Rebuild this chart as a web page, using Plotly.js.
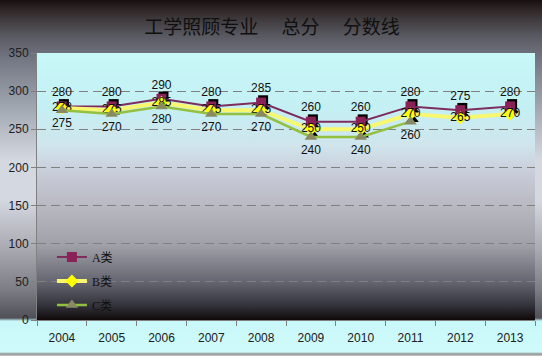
<!DOCTYPE html>
<html>
<head>
<meta charset="utf-8">
<script src="https://cdn.plot.ly/plotly-3.0.1.min.js"></script>
<style>
html,body{margin:0;padding:0;}
#chart{width:542px;height:356px;
background:linear-gradient(to bottom,#181010 0px,#302828 10px,#585860 35px,#747884 60px,#9aa0aa 100px,#d4d8e0 160px,#d4d8e0 200px,#a8a8b0 250px,#7c7c84 290px,#505058 318px,#c8f8fa 321px,#d0fafa 352px,#909090 354px,#d0d0d0 356px);}
</style>
</head>
<body>
<div id="chart"></div>
<script>
const years = ['2004','2005','2006','2007','2008','2009','2010','2011','2012','2013'];
const seriesA = [280,280,290,280,285,260,260,280,275,280];
const seriesB = [278,275,285,275,275,250,250,270,265,270];
const seriesC = [275,270,280,270,270,240,240,260,null,null];
const names = ['A类','B类','C类'];
const yTicks = [0,50,100,150,200,250,300,350];
const gridVals = [50,100,150,200,250,300];

const bgSvg = "<svg xmlns='http://www.w3.org/2000/svg' width='10' height='100' preserveAspectRatio='none'><defs><linearGradient id='g' x1='0' y1='0' x2='0' y2='1'>" +
 "<stop offset='0' stop-color='#c8f8f8'/><stop offset='0.2' stop-color='#c4f0f4'/><stop offset='0.35' stop-color='#d0e4ec'/>" +
 "<stop offset='0.45' stop-color='#c8ccd8'/><stop offset='0.6' stop-color='#b4b4bc'/><stop offset='0.72' stop-color='#a0a0a8'/>" +
 "<stop offset='0.86' stop-color='#646470'/><stop offset='0.95' stop-color='#303038'/><stop offset='1' stop-color='#100808'/>" +
 "</linearGradient></defs><rect width='10' height='100' fill='url(#g)'/></svg>";
const bgUri = 'data:image/svg+xml;charset=utf-8,' + encodeURIComponent(bgSvg);

const labelFont = {family:'Liberation Sans, Arial, sans-serif', size:12, color:'#101010'};

function shadow(vals, sym, size){
  return {x:years, y:vals, xaxis:'x2', yaxis:'y2', mode:'markers', showlegend:false, hoverinfo:'skip',
    marker:{symbol:sym, size:size, color:'#000000'}};
}

const data = [
  {x:years, y:years.map(() => null), xaxis:'x', yaxis:'y', mode:'markers', showlegend:false, hoverinfo:'skip'},
  shadow(seriesA,'square',10),
  shadow(seriesB,'diamond',10),
  shadow(seriesC,'triangle-up',11),
  {x:years, y:seriesA, xaxis:'x3', yaxis:'y3', name:names[0], legendgroup:'a', mode:'lines+markers+text',
    text:seriesA.map(String), textposition:'top center', textfont:labelFont,
    line:{color:'#7e2c5e', width:2}, marker:{symbol:'square', size:10, color:'#8a2258'}},
  {x:years, y:seriesB, xaxis:'x3', yaxis:'y3', name:names[1], legendgroup:'b', mode:'lines+markers+text',
    text:seriesB.map(String), textposition:'middle center', textfont:labelFont,
    line:{color:'#f8f870', width:4}, marker:{symbol:'diamond', size:10, color:'#ffff00'}},
  {x:years, y:seriesC, xaxis:'x3', yaxis:'y3', name:names[2], legendgroup:'c', mode:'lines+markers+text',
    text:seriesC.map(v => v==null ? '' : String(v)), textposition:'bottom center', textfont:labelFont,
    line:{color:'#94c040', width:2.5}, marker:{symbol:'triangle-up', size:11, color:'#8a8a62'}}
];

const gridCol = '#808080';
const layout = {
  width:542, height:356,
  margin:{l:37, r:7, t:53, b:36},
  paper_bgcolor:'rgba(0,0,0,0)', plot_bgcolor:'rgba(0,0,0,0)',
  title:{text:'工学照顾专业　 总分　 分数线', x:0.502, xref:'container', xanchor:'center', y:0.922, yref:'container', yanchor:'middle',
    font:{family:'Noto Sans CJK SC, sans-serif', size:19, color:'#101010'}},
  xaxis:{type:'category', categoryarray:years, range:[-0.5,9.5], showgrid:false, showline:true, linecolor:gridCol, linewidth:1,
    ticks:'outside', tickson:'boundaries', ticklen:5, tickcolor:gridCol, fixedrange:true, ticklabelstandoff:7,
    tickfont:{family:'Liberation Sans, Arial, sans-serif', size:12, color:'#202020'}},
  yaxis:{range:[0,350], tickvals:yTicks, showgrid:false,
    zeroline:false, showline:true, linecolor:gridCol, linewidth:1, ticks:'outside', ticklen:5, tickcolor:gridCol, fixedrange:true,
    tickfont:{family:'Liberation Sans, Arial, sans-serif', size:12, color:'#202020'}},
  xaxis2:{type:'category', categoryarray:years, overlaying:'x', range:[-0.54,9.46], visible:false, fixedrange:true},
  yaxis2:{overlaying:'y', range:[-3.0,347.0], visible:false, fixedrange:true},
  xaxis3:{type:'category', categoryarray:years, overlaying:'x', range:[-0.5,9.5], visible:false, fixedrange:true},
  yaxis3:{overlaying:'y', range:[0,350], tickvals:gridVals, showgrid:true, gridcolor:gridCol, griddash:'9px,5px', gridwidth:1,
    showticklabels:false, ticks:'', showline:false, zeroline:false, fixedrange:true},
  legend:{x:0.03, y:0.29, xanchor:'left', yanchor:'top', bgcolor:'rgba(0,0,0,0)', tracegroupgap:5, traceorder:'grouped',
    font:{family:'Liberation Serif, Noto Sans CJK SC, serif', size:12, color:'#101010'}},
  images:[{source:bgUri, xref:'paper', yref:'paper', x:0, y:1, sizex:1, sizey:1, sizing:'stretch', xanchor:'left', yanchor:'top', layer:'below'}],
  showlegend:true
};

Plotly.newPlot('chart', data, layout, {displayModeBar:false, staticPlot:true});
</script>
</body>
</html>
